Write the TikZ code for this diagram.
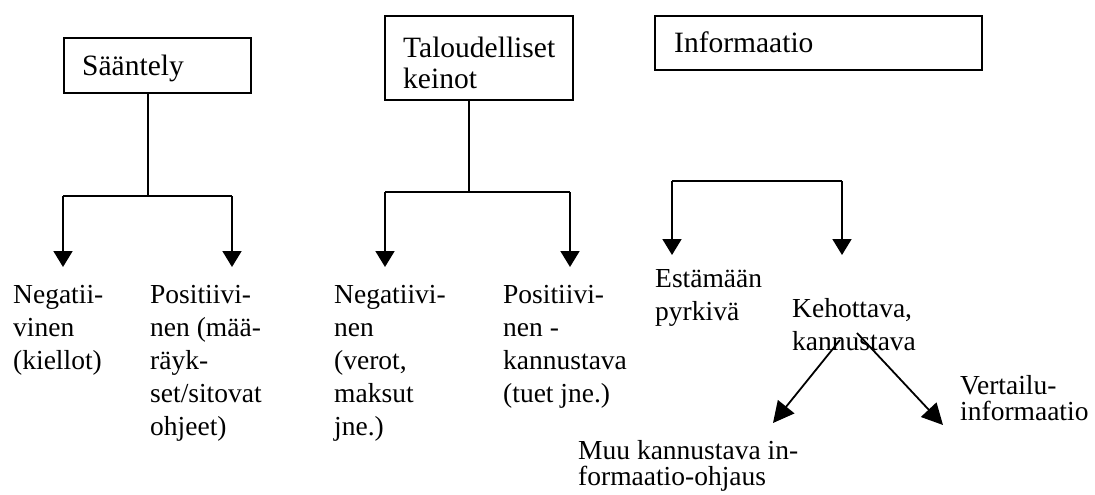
\documentclass[tikz,border=0pt]{standalone}
\usepackage{fontspec}
\setmainfont{Liberation Serif}
\usetikzlibrary{arrows.meta}
\newcommand\topst{\rule{0pt}{21pt}}
\newcommand\noskip{\lineskiplimit -50pt\relax}
\begin{document}
\begin{tikzpicture}[x=1pt,y=-1pt,
  box/.style={draw, line width=1.8pt, rectangle, inner sep=0pt, anchor=north west},
  boxt/.style={anchor=north west, inner sep=0pt, align=left, font={\fontsize{29.5}{31}\selectfont\noskip}},
  lbl/.style={anchor=north west, inner sep=0pt, align=left, font={\fontsize{27.5}{33}\selectfont\noskip}},
  tight/.style={anchor=north west, inner sep=0pt, align=left, font={\fontsize{27.5}{26}\selectfont\noskip}},
  conn/.style={line width=1.8pt},
  arr/.style={line width=1.8pt, -{Triangle[length=16pt,width=19pt]}},
  darr/.style={line width=1.8pt, -{Triangle[length=21pt,width=21pt]}}]
\useasboundingbox (0,0) rectangle (1095,495);
% boxes
\node[box, minimum width=187pt, minimum height=55pt] (saantely) at (63,37) {};
\node[box, minimum width=188pt, minimum height=84pt] (talous) at (384,15) {};
\node[box, minimum width=327pt, minimum height=54pt] (info) at (654,15) {};
\node[boxt] (saantelyT) at (82,54) {\topst S\"a\"antely};
\node[boxt] (talousT) at (403,36) {\topst Taloudelliset\\keinot};
\node[boxt] (infoT) at (674,31) {\topst Informaatio};
% leaf texts
\node[lbl] (neg1) at (13,282) {\topst Negatii-\\vinen\\(kiellot)};
\node[lbl] (pos1) at (150,282) {\topst Positiivi-\\nen (m\"a\"a-\\r\"ayk-\\set/sitovat\\ohjeet)};
\node[lbl] (neg2) at (334,282) {\topst Negatiivi-\\nen\\(verot,\\maksut\\jne.)};
\node[lbl] (pos2) at (503,282) {\topst Positiivi-\\nen -\\kannustava\\(tuet jne.)};
\node[lbl] (est) at (655,266) {\topst Est\"am\"a\"an\\pyrkiv\"a};
\node[lbl] (keh) at (792,296) {\topst Kehottava,\\kannustava};
\node[tight] (vert) at (960,373) {\topst Vertailu-\\informaatio};
\node[tight] (muu) at (578,438) {\topst Muu kannustava in-\\formaatio-ohjaus};
% junction / end coordinates
\coordinate (s0) at (148,196);
\coordinate (sl) at (63,196);
\coordinate (sr) at (232,196);
\coordinate (slt) at (63,267);
\coordinate (srt) at (232,267);
\coordinate (t0) at (469,192);
\coordinate (tl) at (385,192);
\coordinate (tr) at (570,192);
\coordinate (tlt) at (385,267);
\coordinate (trt) at (570,267);
\coordinate (il) at (672,181);
\coordinate (ir) at (842,181);
\coordinate (ilt) at (672,255);
\coordinate (irt) at (842,255);
\coordinate (k1) at (840,340);
\coordinate (k2) at (857,333);
\coordinate (m1) at (773,423);
\coordinate (v1) at (943,425);
% connectors
\draw[conn] (saantely.south -| s0) -- (s0);
\draw[conn] (sl) -- (sr);
\draw[arr] (sl) -- (slt);
\draw[arr] (sr) -- (srt);
\draw[conn] (talous.south -| t0) -- (t0);
\draw[conn] (tl) -- (tr);
\draw[arr] (tl) -- (tlt);
\draw[arr] (tr) -- (trt);
\draw[conn] (il) -- (ir);
\draw[arr] (il) -- (ilt);
\draw[arr] (ir) -- (irt);
\draw[darr] (k1) -- (m1);
\draw[darr] (k2) -- (v1);
\end{tikzpicture}
\end{document}
